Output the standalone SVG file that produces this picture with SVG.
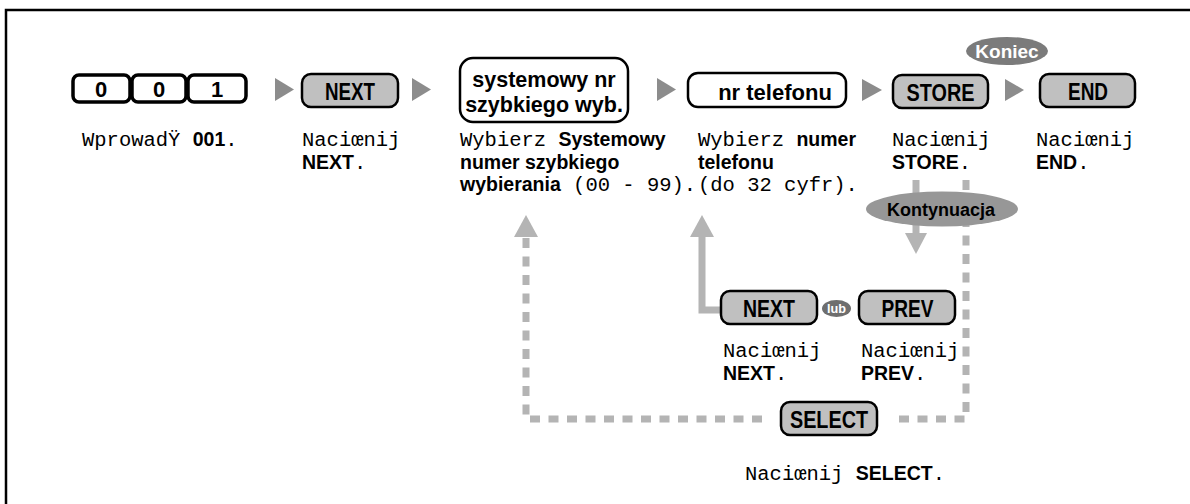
<svg xmlns="http://www.w3.org/2000/svg" width="1190" height="504" viewBox="0 0 1190 504">
<style>
.frame{fill:none;stroke:#000;stroke-width:2.5}
.dig{fill:#fff;stroke:#000;stroke-width:3.5}
.btn{fill:#c0c0c0;stroke:#000;stroke-width:2.5}
.wbox{fill:#fff;stroke:#000;stroke-width:2.5}
.tri{fill:#8c8c8c}
.conn{fill:none;stroke:#b4b4b4;stroke-width:7}
.dash{stroke-dasharray:10 8.5}
.head{fill:#b4b4b4}
.bt{font-family:"Liberation Sans",Arial,sans-serif;font-weight:bold;font-size:24px;text-anchor:middle;fill:#000}
.dt{font-family:"Liberation Sans",Arial,sans-serif;font-weight:bold;font-size:22px;text-anchor:middle;fill:#000}
.wt{font-family:"Liberation Sans",Arial,sans-serif;font-weight:bold;font-size:21.5px;text-anchor:middle;fill:#000}
.mono{font-family:"Liberation Mono","Courier New",monospace;font-size:20.5px;fill:#000}
.b{font-family:"Liberation Sans",Arial,sans-serif;font-weight:bold;font-size:19.5px}
.ell{font-family:"Liberation Sans",Arial,sans-serif;font-weight:bold;text-anchor:middle}
</style>

<path class="frame" d="M6,504 V10 H1190"/>

<g id="connectors">
  <polygon class="tri" points="275,78 294,89.5 275,101"/>
  <polygon class="tri" points="412,78 431,89.5 412,101"/>
  <polygon class="tri" points="657,78 676,89.5 657,101"/>
  <polygon class="tri" points="862,79 882,90 862,101"/>
  <polygon class="tri" points="1005,79 1024,90 1005,101"/>
  <path class="conn" d="M916,180 V236"/>
  <polygon class="head" points="905,233 927,233 916,254"/>
  <path class="conn" d="M722,310 H702 V234"/>
  <polygon class="head" points="690,237 714,237 702,215"/>
  <path class="conn dash" d="M966,180 V419 H895"/>
  <path class="conn dash" d="M762,419 H526 V236"/>
  <polygon class="head" points="514,237 538,237 526,215"/>
</g>

<g id="n-digits">
  <rect class="dig" x="73" y="75" width="57" height="27" rx="6"/>
  <rect class="dig" x="132" y="75" width="54" height="27" rx="6"/>
  <rect class="dig" x="188" y="75" width="58" height="27" rx="6"/>
  <text class="dt" x="101" y="97">0</text>
  <text class="dt" x="159" y="97">0</text>
  <text class="dt" x="217" y="97">1</text>
</g>
<g id="n-next1">
  <rect class="btn" x="302" y="74" width="96" height="33" rx="9"/>
  <text class="bt" x="350" y="100" textLength="50" lengthAdjust="spacingAndGlyphs">NEXT</text>
</g>
<g id="n-sysnr">
  <rect class="wbox" x="460" y="58" width="168" height="64" rx="13"/>
  <text class="wt" x="544" y="87">systemowy nr</text>
  <text class="wt" x="544" y="112">szybkiego wyb.</text>
</g>
<g id="n-tel">
  <rect class="wbox" x="688" y="73" width="158" height="34" rx="10"/>
  <text class="wt" x="775" y="100" style="font-size:22px">nr telefonu</text>
</g>
<g id="n-store">
  <rect class="btn" x="893" y="75" width="95" height="33" rx="9"/>
  <text class="bt" x="940.5" y="100.5" textLength="68" lengthAdjust="spacingAndGlyphs">STORE</text>
</g>
<g id="n-koniec">
  <ellipse cx="1007" cy="51" rx="41" ry="14" fill="#7b7b7b"/>
  <text class="ell" x="1007" y="58" style="font-size:19px;fill:#fff">Koniec</text>
</g>
<g id="n-end">
  <rect class="btn" x="1040" y="74" width="95" height="33" rx="9"/>
  <text class="bt" x="1088" y="100" textLength="40" lengthAdjust="spacingAndGlyphs">END</text>
</g>
<g id="n-kont">
  <ellipse cx="942" cy="209" rx="76" ry="17.5" fill="#979797"/>
  <text class="ell" x="941" y="215.5" style="font-size:18px;fill:#000">Kontynuacja</text>
</g>
<g id="n-next2">
  <rect class="btn" x="721" y="291" width="96" height="33" rx="9"/>
  <text class="bt" x="769" y="317" textLength="52" lengthAdjust="spacingAndGlyphs">NEXT</text>
</g>
<g id="n-lub">
  <ellipse cx="836.5" cy="308.5" rx="14.5" ry="8.5" fill="#6e6e6e"/>
  <text class="ell" x="836.5" y="313" style="font-size:12.5px;fill:#fff" textLength="19" lengthAdjust="spacingAndGlyphs">lub</text>
</g>
<g id="n-prev">
  <rect class="btn" x="859" y="291" width="96" height="33" rx="9"/>
  <text class="bt" x="907.5" y="317" textLength="52" lengthAdjust="spacingAndGlyphs">PREV</text>
</g>
<g id="n-select">
  <rect class="btn" x="781" y="402" width="96" height="33" rx="9"/>
  <text class="bt" x="829" y="428" textLength="78" lengthAdjust="spacingAndGlyphs">SELECT</text>
</g>

<g id="labels">
  <text class="mono" x="82" y="146">WprowadŸ <tspan class="b">001</tspan>.</text>
  <text class="mono" x="302" y="146">Naciœnij</text>
  <text class="mono" x="302" y="168.5"><tspan class="b">NEXT</tspan>.</text>
  <text class="mono" x="460" y="146">Wybierz <tspan class="b">Systemowy</tspan></text>
  <text class="b" x="460" y="168.5">numer szybkiego</text>
  <text class="mono" x="460" y="191"><tspan class="b">wybierania</tspan> (00 - 99).</text>
  <text class="mono" x="698" y="146">Wybierz <tspan class="b">numer</tspan></text>
  <text class="b" x="698" y="168.5">telefonu</text>
  <text class="mono" x="698" y="191">(do 32 cyfr).</text>
  <text class="mono" x="892" y="146">Naciœnij</text>
  <text class="mono" x="892" y="168.5"><tspan class="b">STORE</tspan>.</text>
  <text class="mono" x="1036" y="146">Naciœnij</text>
  <text class="mono" x="1036" y="168.5"><tspan class="b">END</tspan>.</text>
  <text class="mono" x="723" y="357">Naciœnij</text>
  <text class="mono" x="723" y="380"><tspan class="b">NEXT</tspan>.</text>
  <text class="mono" x="861" y="357">Naciœnij</text>
  <text class="mono" x="861" y="380"><tspan class="b">PREV</tspan>.</text>
  <text class="mono" x="745" y="480">Naciœnij <tspan class="b">SELECT</tspan>.</text>
</g>
</svg>
